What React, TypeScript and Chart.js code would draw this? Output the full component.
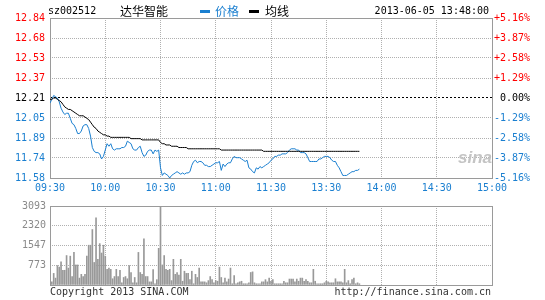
import React, { useEffect, useRef } from 'react';
import { Chart, registerables } from 'chart.js';

Chart.register(...registerables);

const TIME_LABELS = ['09:30', '10:00', '10:30', '11:00', '11:30', '13:30', '14:00', '14:30', '15:00'];
const PRICE_TICK_LABELS = ['11.58', '11.74', '11.89', '12.05', '12.21', '12.37', '12.53', '12.68', '12.84'];
const PCT_LABELS = ['-5.16%', '-3.87%', '-2.58%', '-1.29%', '0.00%', '+1.29%', '+2.58%', '+3.87%', '+5.16%'];
const VOL_TICK_VALUES = [0, 773, 1547, 2320, 3093];
const VOL_TICK_LABELS = ['', '773', '1547', '2320', '3093'];
const PRICE_MIN = 11.58;
const PRICE_MAX = 12.84;
const SESSION_MINUTES = 240;

const PRICE = [
  12.17, 12.20, 12.23, 12.22, 12.21, 12.18, 12.13, 12.10, 12.08, 12.09,
  12.09, 12.05, 12.01, 12.00, 11.97, 11.93, 11.93, 11.95, 11.99, 12.00,
  12.00, 11.97, 11.91, 11.82, 11.79, 11.78, 11.78, 11.77, 11.73, 11.75,
  11.80, 11.85, 11.83, 11.85, 11.81, 11.80, 11.81, 11.81, 11.81, 11.82,
  11.82, 11.83, 11.87, 11.86, 11.85, 11.81, 11.80, 11.80, 11.82, 11.83,
  11.78, 11.75, 11.76, 11.79, 11.80, 11.80, 11.77, 11.80, 11.79, 11.80,
  11.66, 11.60, 11.62, 11.61, 11.60, 11.58, 11.60, 11.61, 11.62, 11.63,
  11.62, 11.61, 11.62, 11.61, 11.62, 11.62, 11.63, 11.68, 11.71, 11.72,
  11.70, 11.71, 11.71, 11.70, 11.68, 11.68, 11.67, 11.67, 11.68, 11.69,
  11.70, 11.70, 11.71, 11.64, 11.69, 11.67, 11.69, 11.70, 11.70, 11.73,
  11.75, 11.74, 11.74, 11.74, 11.73, 11.72, 11.71, 11.72, 11.66, 11.65,
  11.63, 11.62, 11.66, 11.65, 11.67, 11.66, 11.67, 11.68, 11.69, 11.70,
  11.72, 11.73, 11.75, 11.75, 11.76, 11.76, 11.77, 11.77, 11.77, 11.78,
  11.80, 11.81, 11.81, 11.81, 11.80, 11.80, 11.78, 11.78, 11.78, 11.77,
  11.74, 11.71, 11.71, 11.71, 11.71, 11.71, 11.73, 11.73, 11.74, 11.75,
  11.75, 11.75, 11.74, 11.72, 11.71, 11.71, 11.68, 11.66, 11.63, 11.60,
  11.60, 11.60, 11.61, 11.62, 11.63, 11.63, 11.64, 11.64, 11.65,
];

const AVG = [
  12.20, 12.20, 12.21, 12.21, 12.20, 12.19, 12.18, 12.16, 12.14, 12.13,
  12.12, 12.12, 12.11, 12.10, 12.09, 12.08, 12.07, 12.07, 12.07, 12.06,
  12.05, 12.04, 12.02, 12.00, 11.98, 11.97, 11.95, 11.94, 11.93, 11.92,
  11.92, 11.91, 11.91, 11.90, 11.90, 11.90, 11.90, 11.90, 11.90, 11.90,
  11.90, 11.90, 11.90, 11.90, 11.89, 11.89, 11.89, 11.89, 11.89, 11.89,
  11.88, 11.88, 11.88, 11.88, 11.88, 11.88, 11.88, 11.88, 11.88, 11.88,
  11.86, 11.85, 11.85, 11.84, 11.84, 11.84, 11.83, 11.83, 11.83, 11.83,
  11.82, 11.82, 11.82, 11.82, 11.82, 11.81, 11.81, 11.81, 11.81, 11.81,
  11.81, 11.81, 11.81, 11.81, 11.81, 11.81, 11.81, 11.81, 11.81, 11.81,
  11.81, 11.81, 11.81, 11.80, 11.80, 11.80, 11.80, 11.80, 11.80, 11.80,
  11.80, 11.80, 11.80, 11.80, 11.80, 11.80, 11.80, 11.80, 11.80, 11.80,
  11.80, 11.80, 11.80, 11.80, 11.80, 11.80, 11.79, 11.79, 11.79, 11.79,
  11.79, 11.79, 11.79, 11.79, 11.79, 11.79, 11.79, 11.79, 11.79, 11.79,
  11.79, 11.79, 11.79, 11.79, 11.79, 11.79, 11.79, 11.79, 11.79, 11.79,
  11.79, 11.79, 11.79, 11.79, 11.79, 11.79, 11.79, 11.79, 11.79, 11.79,
  11.79, 11.79, 11.79, 11.79, 11.79, 11.79, 11.79, 11.79, 11.79, 11.79,
  11.79, 11.79, 11.79, 11.79, 11.79, 11.79, 11.79, 11.79, 11.79,
];

const VOLUME = [
  540, 123, 454, 270, 760, 700, 908, 577, 577, 1153,
  663, 1129, 331, 1276, 785, 785, 270, 417, 331, 417,
  1129, 1558, 1558, 2172, 883, 2626, 1006, 1620, 1252, 1558,
  1129, 613, 663, 613, 245, 331, 613, 331, 577, 86,
  294, 331, 245, 760, 490, 86, 294, 86, 1276, 490,
  417, 1804, 331, 331, 123, 123, 600, 49, 209, 1436,
  3093, 785, 1153, 613, 577, 613, 172, 1006, 417, 490,
  393, 1006, 147, 540, 454, 454, 209, 540, 49, 417,
  294, 663, 123, 123,
  123, 86, 172, 331, 209, 86, 172, 147, 700, 294,
  86, 270, 123, 233, 663, 49, 368, 49, 86, 123,
  147, 49, 49, 49, 86, 490, 515, 86, 49, 49,
  49, 123, 123, 209, 123, 270, 147, 209, 49, 49,
  49, 49, 49, 147, 86, 86, 233, 233, 233, 123,
  233, 147, 270, 270, 147, 209, 147, 86, 86, 613,
  147, 49, 49, 49, 49, 86, 147, 123, 86, 86,
  86, 245, 123, 123, 123, 86, 613, 86, 172, 49,
  209, 270, 49, 86, 49,
];

const MONO = '"DejaVu Sans Mono", "Liberation Mono", monospace';
const CJK = '"Noto Sans CJK SC", sans-serif';
const BLUE = '#1a7fd0';
const RED = '#ff0000';
const GRID = '#b0b0b0';
const FRAME = '#9a9a9a';
const VOL_COLOR = '#999999';

const framePlugin = {
  id: 'frame',
  beforeDatasetsDraw(chart: any) {
    const { ctx, chartArea: a } = chart;
    ctx.save();
    ctx.strokeStyle = FRAME;
    ctx.lineWidth = 1;
    ctx.setLineDash([]);
    ctx.strokeRect(
      Math.round(a.left) + 0.5,
      Math.round(a.top) + 0.5,
      Math.round(a.right - a.left),
      Math.round(a.bottom - a.top)
    );
    ctx.restore();
  },
};

const timeTicks = (s: any) => {
  s.ticks = TIME_LABELS.map((_, i) => ({ value: (i * SESSION_MINUTES) / (TIME_LABELS.length - 1) }));
};
const priceTicks = (s: any) => {
  s.ticks = PRICE_TICK_LABELS.map((_, i) => ({
    value: PRICE_MIN + (i * (PRICE_MAX - PRICE_MIN)) / (PRICE_TICK_LABELS.length - 1),
  }));
};
const tickColor = (c: any) => (c.index < 4 ? BLUE : c.index === 4 ? '#000000' : RED);

const Txt = ({ left, right, top, font, color, children }: any) => (
  <span
    style={{
      position: 'absolute',
      left,
      right,
      top,
      font,
      lineHeight: '12px',
      color,
      whiteSpace: 'nowrap',
    }}
  >
    {children}
  </span>
);

export default function App() {
  const priceRef = useRef<HTMLCanvasElement>(null);
  const volRef = useRef<HTMLCanvasElement>(null);

  useEffect(() => {
    const pc = new Chart(priceRef.current as HTMLCanvasElement, {
      type: 'line',
      data: {
        datasets: [
          {
            label: '均线',
            data: AVG.map((y, i) => ({ x: i, y })),
            borderColor: '#000000',
            borderWidth: 1,
            pointRadius: 0,
            tension: 0,
            yAxisID: 'y',
          },
          {
            label: '价格',
            data: PRICE.map((y, i) => ({ x: i, y })),
            borderColor: BLUE,
            borderWidth: 1,
            pointRadius: 0,
            tension: 0,
            yAxisID: 'y',
          },
        ],
      },
      options: {
        animation: false,
        responsive: false,
        devicePixelRatio: 1,
        layout: { padding: { top: 18, right: 15, left: 0, bottom: 0 } },
        plugins: { legend: { display: false }, tooltip: { enabled: false } },
        scales: {
          x: {
            type: 'linear',
            min: 0,
            max: SESSION_MINUTES,
            afterBuildTicks: timeTicks,
            afterFit: (s: any) => { s.height = 18; },
            ticks: {
              autoSkip: false,
              maxRotation: 0,
              color: BLUE,
              font: { family: MONO, size: 10 },
              padding: 4,
              callback: (_v: any, i: number) => TIME_LABELS[i],
            },
            grid: { color: GRID, drawTicks: false },
            border: { display: false, dash: [1, 1] },
          },
          y: {
            type: 'linear',
            position: 'left',
            min: PRICE_MIN,
            max: PRICE_MAX,
            afterBuildTicks: priceTicks,
            afterFit: (s: any) => { s.width = 50; },
            ticks: {
              color: tickColor,
              font: { family: MONO, size: 10 },
              padding: 5,
              callback: (_v: any, i: number) => PRICE_TICK_LABELS[i],
            },
            grid: {
              color: (c: any) => (c.index === 4 ? '#000000' : GRID),
              drawTicks: false,
            },
            border: { display: false, dash: (c: any) => (c.index === 4 ? [2, 2] : [1, 1]) },
          },
          y2: {
            type: 'linear',
            position: 'right',
            min: PRICE_MIN,
            max: PRICE_MAX,
            afterBuildTicks: priceTicks,
            afterFit: (s: any) => { s.width = 38; },
            ticks: {
              color: tickColor,
              font: { family: MONO, size: 10 },
              padding: 2,
              crossAlign: 'far',
              callback: (_v: any, i: number) => PCT_LABELS[i],
            },
            grid: { display: false, drawTicks: false },
            border: { display: false },
          },
        },
      } as any,
      plugins: [framePlugin],
    });

    const vc = new Chart(volRef.current as HTMLCanvasElement, {
      type: 'bar',
      data: {
        datasets: [
          {
            label: '成交量',
            data: VOLUME.map((y, i) => ({ x: i, y })),
            backgroundColor: VOL_COLOR,
            borderWidth: 0,
            barThickness: 1,
          },
        ],
      },
      options: {
        animation: false,
        responsive: false,
        devicePixelRatio: 1,
        layout: { padding: { top: 5, right: 53, left: 0, bottom: 0 } },
        plugins: { legend: { display: false }, tooltip: { enabled: false } },
        scales: {
          x: {
            type: 'linear',
            min: 0,
            max: SESSION_MINUTES,
            offset: false,
            afterBuildTicks: timeTicks,
            afterFit: (s: any) => { s.height = 15; },
            ticks: { display: false },
            grid: { color: GRID, drawTicks: false, offset: false },
            border: { display: false, dash: [1, 1] },
          },
          y: {
            type: 'linear',
            min: 0,
            max: VOL_TICK_VALUES[VOL_TICK_VALUES.length - 1],
            afterBuildTicks: (s: any) => { s.ticks = VOL_TICK_VALUES.map((v) => ({ value: v })); },
            afterFit: (s: any) => { s.width = 50; },
            ticks: {
              color: '#8a8a8a',
              font: { family: MONO, size: 10 },
              padding: 4,
              callback: (_v: any, i: number) => VOL_TICK_LABELS[i],
            },
            grid: { color: GRID, drawTicks: false },
            border: { display: false, dash: [1, 1] },
          },
        },
      } as any,
      plugins: [framePlugin],
    });

    return () => {
      pc.destroy();
      vc.destroy();
    };
  }, []);

  const mono10 = `10px ${MONO}`;
  const cjk12 = `12px ${CJK}`;

  return (
    <div
      style={{
        position: 'absolute',
        left: 0,
        top: 0,
        width: 545,
        height: 300,
        background: '#ffffff',
        overflow: 'hidden',
      }}
    >
      <canvas ref={priceRef} width={545} height={196} style={{ position: 'absolute', left: 0, top: 0 }} />
      <canvas ref={volRef} width={545} height={104} style={{ position: 'absolute', left: 0, top: 196 }} />

      <Txt left={48} top={5} font={mono10} color="#000">sz002512</Txt>
      <Txt left={120} top={5} font={cjk12} color="#000">达华智能</Txt>
      <div style={{ position: 'absolute', left: 200, top: 10, width: 10, height: 3, background: BLUE }} />
      <Txt left={215} top={5} font={cjk12} color={BLUE}>价格</Txt>
      <div style={{ position: 'absolute', left: 249, top: 10, width: 10, height: 3, background: '#000' }} />
      <Txt left={265} top={5} font={cjk12} color="#000">均线</Txt>
      <Txt right={56} top={5} font={mono10} color="#000">2013-06-05 13:48:00</Txt>

      <Txt left={458} top={152} font={`italic bold 17px "Liberation Sans", sans-serif`} color="#c4c4c4">sina</Txt>

      <Txt left={50} top={286} font={mono10} color="#333">Copyright 2013 SINA.COM</Txt>
      <Txt right={54} top={286} font={mono10} color="#333">http://finance.sina.com.cn</Txt>
    </div>
  );
}
